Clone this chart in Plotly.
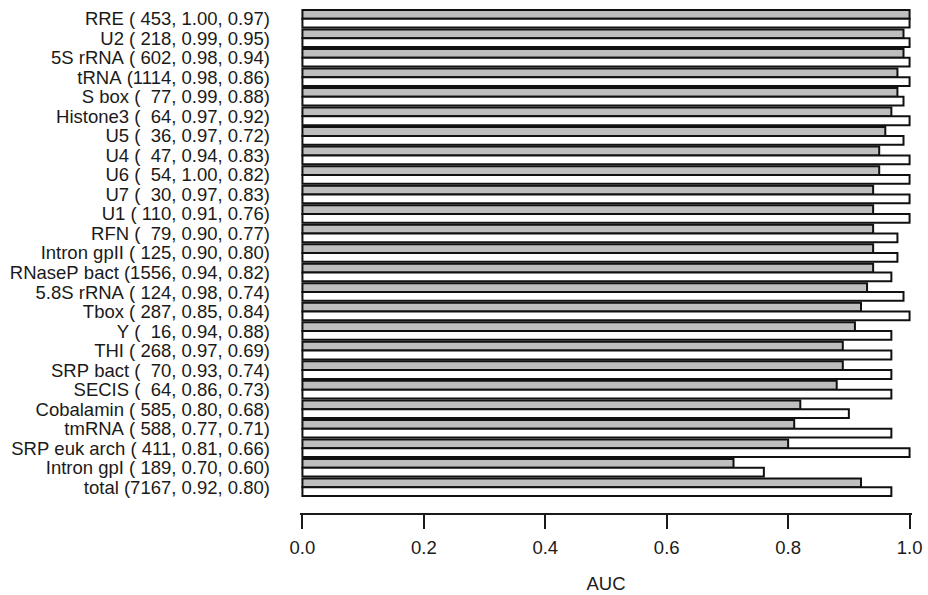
import plotly.graph_objects as go

# Data
names = ["RRE", "U2", "5S rRNA", "tRNA", "S box", "Histone3", "U5", "U4", "U6", "U7",
         "U1", "RFN", "Intron gpII", "RNaseP bact", "5.8S rRNA", "Tbox", "Y", "THI",
         "SRP bact", "SECIS", "Cobalamin", "tmRNA", "SRP euk arch", "Intron gpI", "total"]
counts = [453, 218, 602, 1114, 77, 64, 36, 47, 54, 30,
          110, 79, 125, 1556, 124, 287, 16, 268,
          70, 64, 585, 588, 411, 189, 7167]
label_auc1 = [1.00, 0.99, 0.98, 0.98, 0.99, 0.97, 0.97, 0.94, 1.00, 0.97,
              0.91, 0.90, 0.90, 0.94, 0.98, 0.85, 0.94, 0.97,
              0.93, 0.86, 0.80, 0.77, 0.81, 0.70, 0.92]
label_auc2 = [0.97, 0.95, 0.94, 0.86, 0.88, 0.92, 0.72, 0.83, 0.82, 0.83,
              0.76, 0.77, 0.80, 0.82, 0.74, 0.84, 0.88, 0.69,
              0.74, 0.73, 0.68, 0.71, 0.66, 0.60, 0.80]
gray_auc = [1.00, 0.99, 0.99, 0.98, 0.98, 0.97, 0.96, 0.95, 0.95, 0.94,
            0.94, 0.94, 0.94, 0.94, 0.93, 0.92, 0.91, 0.89,
            0.89, 0.88, 0.82, 0.81, 0.80, 0.71, 0.92]
white_auc = [1.00, 1.00, 1.00, 1.00, 0.99, 1.00, 0.99, 1.00, 1.00, 1.00,
             1.00, 0.98, 0.98, 0.97, 0.99, 1.00, 0.97, 0.97,
             0.97, 0.97, 0.90, 0.97, 1.00, 0.76, 0.97]
x_ticks = [0.0, 0.2, 0.4, 0.6, 0.8, 1.0]

labels = [f"{nm} ({c:>4}, {a:.2f}, {b:.2f})".replace(" ", "\u00a0")
          for nm, c, a, b in zip(names, counts, label_auc1, label_auc2)]

fig = go.Figure()
fig.add_trace(go.Bar(
    y=labels, x=gray_auc, orientation="h",
    marker=dict(color="#bebebe", line=dict(color="#111111", width=2)),
    showlegend=False, hoverinfo="x+y",
))
fig.add_trace(go.Bar(
    y=labels, x=white_auc, orientation="h",
    marker=dict(color="#ffffff", line=dict(color="#111111", width=2)),
    showlegend=False, hoverinfo="x+y",
))

FONT = "Liberation Sans, Arial, Helvetica, sans-serif"

fig.update_layout(
    width=928, height=595,
    margin=dict(l=300, r=16, t=9, b=81),
    paper_bgcolor="white", plot_bgcolor="white",
    barmode="group", bargap=0.1, bargroupgap=0.0,
    font=dict(family=FONT, size=18.5, color="#1a1a1a"),
    xaxis=dict(
        range=[-0.004, 1.004], automargin=False,
        tickmode="array", tickvals=x_ticks, ticktext=[f"{v:.1f}" for v in x_ticks],
        ticks="outside", ticklen=14, tickwidth=1.5, tickcolor="#1a1a1a",
        showline=True, linecolor="#1a1a1a", linewidth=1.5,
        showgrid=False, zeroline=False,
        anchor="free", position=0.0,
        ticklabelstandoff=3,
        tickfont=dict(family=FONT, size=18.5, color="#1a1a1a"),
        title=dict(text="AUC", standoff=19,
                   font=dict(family=FONT, size=18.5, color="#1a1a1a")),
    ),
    yaxis=dict(
        domain=[17 / 505, 1.0], automargin=False,
        autorange="reversed", type="category",
        tickmode="array", tickvals=labels, ticktext=labels,
        showgrid=False, zeroline=False, showline=False,
        ticks="", ticklabelstandoff=29,
        tickfont=dict(family=FONT, size=18.5, color="#1a1a1a"),
    ),
)

fig.write_html(
    "out.html",
    config={"displayModeBar": False},
    post_script="document.body.style.margin='0';document.body.style.overflow='hidden';",
)
